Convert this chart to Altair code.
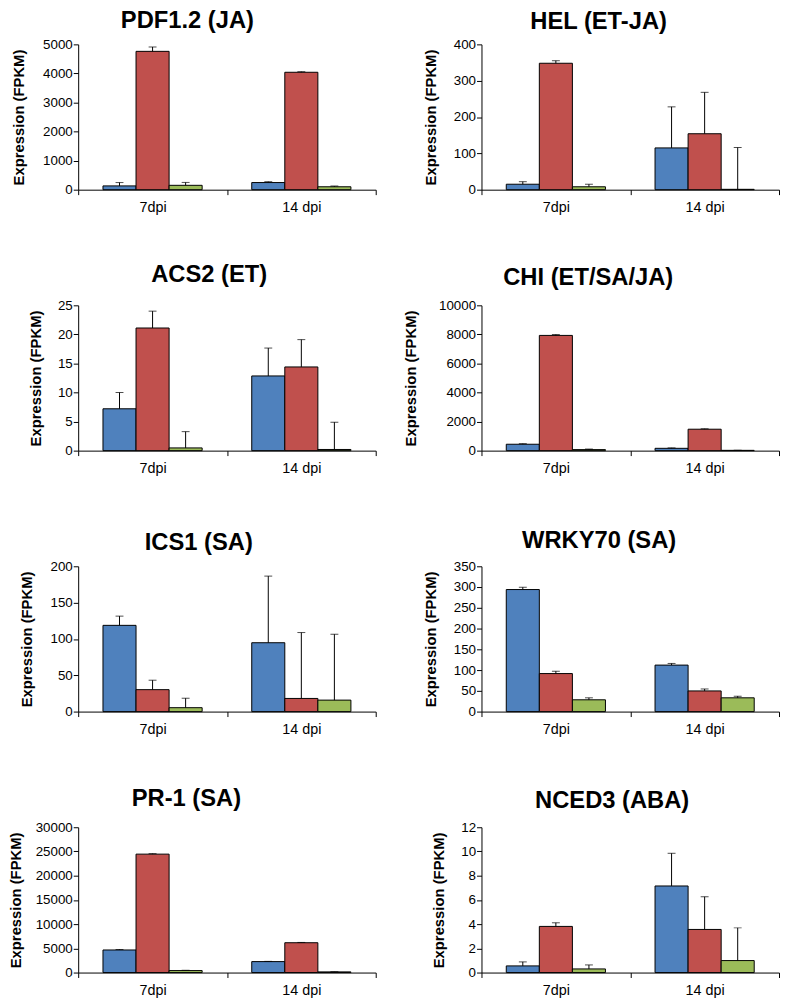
import altair as alt
import pandas as pd

# ---------------- data ----------------
times = ["7dpi", "14 dpi"]
series = ["Series 1", "Series 2", "Series 3"]
colors = ["#4F81BD", "#C0504D", "#9BBB59"]

titles = ["PDF1.2 (JA)", "HEL (ET-JA)", "ACS2 (ET)", "CHI (ET/SA/JA)",
          "ICS1 (SA)", "WRKY70 (SA)", "PR-1 (SA)", "NCED3 (ABA)"]
y_max = [5000, 400, 25, 10000, 200, 350, 30000, 12]
y_ticks = [
    [0, 1000, 2000, 3000, 4000, 5000],
    [0, 100, 200, 300, 400],
    [0, 5, 10, 15, 20, 25],
    [0, 2000, 4000, 6000, 8000, 10000],
    [0, 50, 100, 150, 200],
    [0, 50, 100, 150, 200, 250, 300, 350],
    [0, 5000, 10000, 15000, 20000, 25000, 30000],
    [0, 2, 4, 6, 8, 10, 12],
]

# values per panel: [7dpi, 14 dpi]
blue_vals = [[130, 245], [15, 115], [7.2, 12.85], [440, 160],
             [118.7, 94.8], [294, 112], [4660, 2260], [0.55, 7.15]]
blue_err = [[115, 30], [7, 113], [2.8, 4.8], [40, 30],
            [12.7, 91.7], [5.5, 4], [100, 50], [0.33, 2.7]]
red_vals = [[4760, 4040], [348, 154], [21.1, 14.4], [7930, 1475],
            [30.2, 18.1], [91.6, 49.8], [24450, 6160], [3.81, 3.56]]
red_err = [[150, 20], [7, 114], [2.9, 4.7], [60, 30],
           [13, 90.7], [5.6, 4.7], [100, 60], [0.3, 2.7]]
green_vals = [[150, 100], [8, 1], [0.47, 0.2], [70, 20],
              [5.4, 15.8], [28.4, 33.2], [410, 140], [0.3, 0.99]]
green_err = [[100, 25], [7, 115], [2.8, 4.7], [40, 10],
             [13, 90.7], [4.8, 4], [60, 30], [0.33, 2.7]]

# ---------------- layout ----------------
panel_heights = [147, 147, 147, 147, 147, 147, 147, 147]
title_pad = [16, 14.5, 14, 20.5, 15.5, 14.5, 12, 14.5]
title_offset = [5, 4, 11.5, 8.5, 4, 6.5, 10, 7.5]
title_dx = [-40, -32, -18, -42.5, -28.5, -31.5, -41, -18.3]
FONT = "Liberation Sans"


def panel(i):
    rows = []
    for s, vals, errs in zip(series, [blue_vals, red_vals, green_vals],
                             [blue_err, red_err, green_err]):
        for t, v, e in zip(times, vals[i], errs[i]):
            rows.append({"time": t, "series": s, "value": v, "upper": v + e})
    df = pd.DataFrame(rows)
    base = alt.Chart(df)
    x = alt.X("time:N", sort=times,
              scale=alt.Scale(paddingInner=0, paddingOuter=0),
              axis=alt.Axis(title=None, labelAngle=0, tickBand="extent",
                            labelFontSize=14.5, labelPadding=6, tickSize=5,
                            domainColor="black", tickColor="black",
                            labelColor="black", labelFont=FONT))
    xoff = alt.XOffset("series:N", sort=series,
                       scale=alt.Scale(paddingInner=0, paddingOuter=0.75))
    yscale = alt.Scale(domain=[0, y_max[i]], nice=False, zero=True)
    yaxis = alt.Axis(values=y_ticks[i], title="Expression (FPKM)",
                     format="d", grid=False, tickSize=5,
                     labelFontSize=13.5, labelPadding=1,
                     labelFlush=False, labelOverlap=False,
                     labelColor="black",
                     labelFont=FONT, domainColor="black",
                     tickColor="black", titleFontSize=15,
                     titleFont=FONT, titleFontWeight="bold",
                     titleColor="black", titlePadding=title_pad[i])
    bars = base.mark_bar(stroke="black", strokeWidth=1).encode(
        x=x, xOffset=xoff,
        y=alt.Y("value:Q", scale=yscale, axis=yaxis),
        color=alt.Color("series:N", sort=series,
                        scale=alt.Scale(domain=series, range=colors),
                        legend=None))
    rule = base.mark_rule(color="black", strokeWidth=1).encode(
        x=x, xOffset=xoff,
        y=alt.Y("value:Q", scale=yscale, axis=yaxis),
        y2="upper:Q")
    cap = base.mark_tick(color="black", thickness=1, size=8).encode(
        x=x, xOffset=xoff,
        y=alt.Y("upper:Q", scale=yscale, axis=yaxis))
    return alt.layer(bars, rule, cap).properties(
        width=301, height=panel_heights[i],
        title=alt.TitleParams(titles[i], fontSize=24, fontWeight="bold",
                              font=FONT, color="black", anchor="middle",
                              frame="group", dx=title_dx[i],
                              offset=title_offset[i]))


chart = alt.concat(*[panel(i) for i in range(8)], columns=2,
                   bounds="flush",
                   spacing={"row": 117, "column": 107}).properties(
    padding={"top": -5, "left": 0, "right": 0, "bottom": 0},
    background="white"
).configure_view(stroke=None)

chart.save("out.html", embed_options={"renderer": "svg", "actions": False})
